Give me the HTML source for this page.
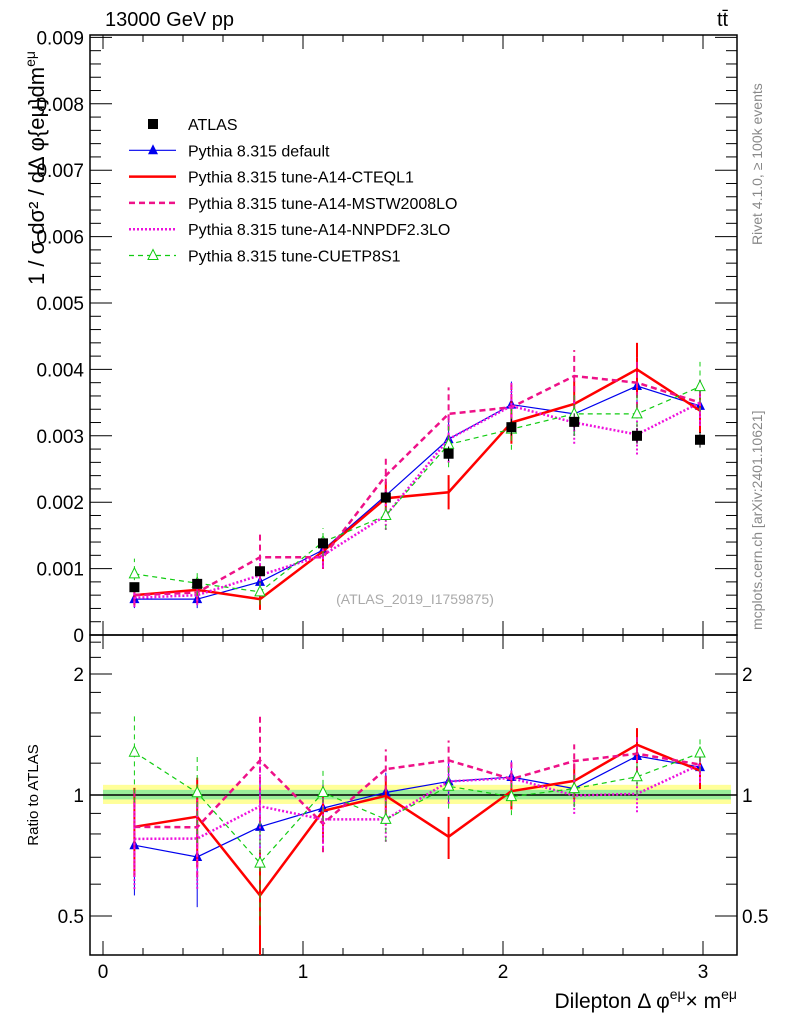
<!DOCTYPE html>
<html><head><meta charset="utf-8"><style>
body{margin:0;background:#fff}svg{display:block;font-family:"Liberation Sans",sans-serif}
</style></head><body>
<svg id="c" width="786" height="1024" xmlns="http://www.w3.org/2000/svg">
<text x="105" y="26" font-size="20">13000 GeV pp</text>
<text x="717" y="26" font-size="20">tt̄</text>
<text transform="translate(762,245) rotate(-90)" font-size="14" fill="#888">Rivet 4.1.0, ≥ 100k events</text>
<text transform="translate(762,630) rotate(-90)" font-size="14" fill="#888">mcplots.cern.ch [arXiv:2401.10621]</text>
<text x="415" y="604" font-size="14" fill="#aaa" text-anchor="middle">(ATLAS_2019_I1759875)</text>
<text transform="translate(44,168) rotate(-90)" font-size="22" text-anchor="middle">1 / σ dσ² / dΔ φ{eμ}dm<tspan font-size="14" dy="-9">eμ</tspan></text>
<text transform="translate(38,795) rotate(-90)" font-size="15" text-anchor="middle">Ratio to ATLAS</text>
<text x="737" y="1008" font-size="21" text-anchor="end">Dilepton Δ φ<tspan font-size="14" dy="-9">eμ</tspan><tspan dy="9">× m</tspan><tspan font-size="14" dy="-9">eμ</tspan></text>
<g id="g"></g>
</svg>
<script>
const xs=[0.157,0.471,0.785,1.100,1.414,1.728,2.042,2.356,2.670,2.985];
const atlas=[0.00072,0.00077,0.00096,0.00138,0.00207,0.00273,0.00313,0.00321,0.00300,0.00294];
const dflt=[0.00054,0.00054,0.00080,0.00128,0.00210,0.00295,0.00347,0.00333,0.00375,0.00345];
const cteq=[0.00060,0.00068,0.00054,0.00126,0.00206,0.00215,0.00320,0.00348,0.00400,0.00338];
const mstw=[0.00060,0.00064,0.00117,0.00117,0.00240,0.00333,0.00343,0.00390,0.00380,0.00350];
const nnpdf=[0.00056,0.00060,0.00090,0.00120,0.00180,0.00295,0.00345,0.00320,0.00302,0.00350];
const cuetp=[0.00092,0.00078,0.00065,0.00140,0.00180,0.00287,0.00310,0.00333,0.00333,0.00374];
const relErr=[0.25,0.25,0.3,0.15,0.12,0.12,0.1,0.1,0.1,0.1];
const yTicks=[0,0.001,0.002,0.003,0.004,0.005,0.006,0.007,0.008,0.009];
const rTicks=[0.5,1,2];
const NS="http://www.w3.org/2000/svg",g=document.getElementById('g');
const L=90,R=737,T1=35,B1=635,B2=955;
const X=v=>103+200*v, Y=v=>635-v*66.4e3, RY=r=>795-Math.log2(r)*121;
function el(t,a,p){const e=document.createElementNS(NS,t);for(const k in a)e.setAttribute(k,a[k]);(p||g).appendChild(e);return e;}
const bands=el('g',{});
el('rect',{x:X(0),y:RY(1.06),width:X(3.14)-X(0),height:RY(0.95)-RY(1.06),fill:'#ffff99'},bands);
el('rect',{x:X(0),y:RY(1.03),width:X(3.14)-X(0),height:RY(0.975)-RY(1.03),fill:'#99ee99'},bands);
el('line',{x1:L,x2:R,y1:RY(1),y2:RY(1),stroke:'#000','stroke-width':1.5});
for(const [t,b,n] of [[T1,B1,'main-frame'],[B1,B2,'ratio-frame']]){const f=el('rect',{x:L,y:t,width:R-L,height:b-t,fill:'none',stroke:'#000','stroke-width':1.5});}
for(let v=0;v<=3.15;v+=0.2){const maj=Math.abs(v-Math.round(v))<1e-6;const h=maj?14:7;
 for(const [t,b] of [[T1,B1],[B1,B2]]){el('line',{x1:X(v),x2:X(v),y1:b,y2:b-h,stroke:'#000'});el('line',{x1:X(v),x2:X(v),y1:t,y2:t+h,stroke:'#000'});}
 if(maj){const tx=el('text',{x:X(v),y:978,'font-size':19,'text-anchor':'middle'});tx.textContent=Math.round(v);}}
for(let i=0;i<=45;i++){const v=i*0.0002,y=Y(v);if(y<T1-1)break;const maj=i%5==0,h=maj?22:11;
 el('line',{x1:L,x2:L+h,y1:y,y2:y,stroke:'#000'});el('line',{x1:R,x2:R-h,y1:y,y2:y,stroke:'#000'});}
yTicks.forEach(v=>{const t=el('text',{x:84,y:Y(v)+7,'font-size':19,'text-anchor':'end'});t.textContent=v===0?'0':v.toFixed(3);});
[0.5,0.6,0.7,0.8,0.9,1,1.2,1.4,1.6,1.8,2,2.2,2.4].forEach(r=>{const y=RY(r);const h=rTicks.includes(r)?22:11;
 el('line',{x1:L,x2:L+h,y1:y,y2:y,stroke:'#000'});el('line',{x1:R,x2:R-h,y1:y,y2:y,stroke:'#000'});});
rTicks.forEach(r=>{for(const [x,a] of [[84,'end'],[742,'start']]){const t=el('text',{x:x,y:RY(r)+7,'font-size':19,'text-anchor':a});t.textContent=r;}});
const series=[
 {d:dflt,c:'#0000ee',w:1.2,da:'',m:'tri',n:'default'},
 {d:cteq,c:'#ff0000',w:2.5,da:'',m:'',n:'cteql1'},
 {d:mstw,c:'#ee1188',w:2.5,da:'6,4',m:'',n:'mstw2008lo'},
 {d:nnpdf,c:'#ee11dd',w:2.5,da:'2,2',m:'',n:'nnpdf23lo'},
 {d:cuetp,c:'#11cc11',w:1.2,da:'5,4',m:'otri',n:'cuetp8s1'}];
series.forEach(s=>{
 const grp=el('g',{});
 const pm=s.d.map((v,i)=>X(xs[i])+','+Y(v)).join(' ');
 const pr=s.d.map((v,i)=>X(xs[i])+','+RY(v/atlas[i])).join(' ');
 el('polyline',{points:pm,fill:'none',stroke:s.c,'stroke-width':s.w,'stroke-dasharray':s.da},grp);
 el('polyline',{points:pr,fill:'none',stroke:s.c,'stroke-width':s.w,'stroke-dasharray':s.da},grp);
 s.d.forEach((v,i)=>{const x=X(xs[i]),e=relErr[i]*v,r=v/atlas[i],er=relErr[i]*r;
  el('line',{x1:x,x2:x,y1:Y(v-e),y2:Y(v+e),stroke:s.c,'stroke-width':s.w>2?2:1,'stroke-dasharray':s.da},grp);
  el('line',{x1:x,x2:x,y1:Math.min(RY(Math.max(r-er,0.38)),955),y2:RY(r+er),stroke:s.c,'stroke-width':s.w>2?2:1,'stroke-dasharray':s.da},grp);
  for(const y of [Y(v),RY(r)]){
   if(s.m==='tri')el('polygon',{points:`${x-5},${y+4} ${x+5},${y+4} ${x},${y-6}`,fill:s.c},grp);
   if(s.m==='otri')el('polygon',{points:`${x-5},${y+4} ${x+5},${y+4} ${x},${y-6}`,fill:'#fff',stroke:s.c},grp);}
 });
});
const ag=el('g',{});
atlas.forEach((v,i)=>{const x=X(xs[i]);el('line',{x1:x,x2:x,y1:Y(v*0.96),y2:Y(v*1.04),stroke:'#000'},ag);el('rect',{x:x-5,y:Y(v)-5,width:10,height:10,fill:'#000'},ag);});
const lg=el('g',{});
const labels=['ATLAS','Pythia 8.315 default','Pythia 8.315 tune-A14-CTEQL1','Pythia 8.315 tune-A14-MSTW2008LO','Pythia 8.315 tune-A14-NNPDF2.3LO','Pythia 8.315 tune-CUETP8S1'];
labels.forEach((t,i)=>{const y=124+i*26.3;const e=el('g',{},lg);
 if(i===0)el('rect',{x:148,y:y-5,width:10,height:10,fill:'#000'},e);
 else{const s=series[i-1];el('line',{x1:129,x2:176,y1:y,y2:y,stroke:s.c,'stroke-width':s.w,'stroke-dasharray':s.da},e);
  if(s.m==='tri')el('polygon',{points:`148,${y+4} 158,${y+4} 153,${y-6}`,fill:s.c},e);
  if(s.m==='otri')el('polygon',{points:`148,${y+4} 158,${y+4} 153,${y-6}`,fill:'#fff',stroke:s.c},e);}
 const tx=el('text',{x:188,y:y+6,'font-size':16},e);tx.textContent=t;});
</script>
</body></html>
